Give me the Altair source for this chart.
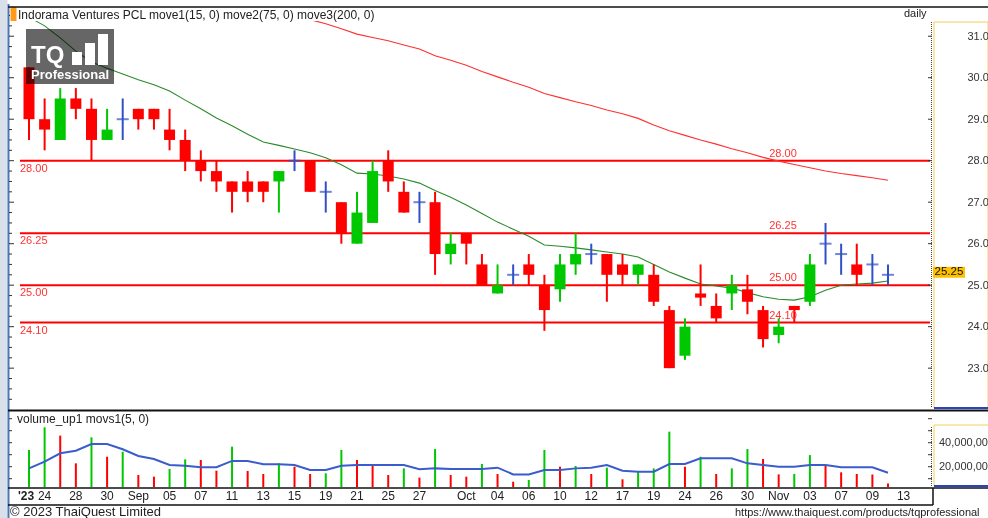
import altair as alt
import pandas as pd

# ---------------- data ----------------
dates = ["2023-08-23","2023-08-24","2023-08-25","2023-08-28","2023-08-29","2023-08-30","2023-08-31",
 "2023-09-01","2023-09-04","2023-09-05","2023-09-06","2023-09-07","2023-09-08","2023-09-11","2023-09-12",
 "2023-09-13","2023-09-14","2023-09-15","2023-09-18","2023-09-19","2023-09-20","2023-09-21","2023-09-22",
 "2023-09-25","2023-09-26","2023-09-27","2023-09-28","2023-09-29","2023-10-02","2023-10-03","2023-10-04",
 "2023-10-05","2023-10-06","2023-10-09","2023-10-10","2023-10-11","2023-10-12","2023-10-16","2023-10-17",
 "2023-10-18","2023-10-19","2023-10-20","2023-10-24","2023-10-25","2023-10-26","2023-10-27","2023-10-30",
 "2023-10-31","2023-11-01","2023-11-02","2023-11-03","2023-11-06","2023-11-07","2023-11-08","2023-11-09",
 "2023-11-10"]

opens = [30.25, 29.0, 28.5, 29.5, 29.25, 28.5, 29.0, 29.25, 29.25, 28.75,
         28.5, 28.0, 27.75, 27.5, 27.5, 27.5, 27.5, 28.0, 28.0, 27.25,
         27.0, 26.0, 26.5, 28.0, 27.25, 27.0, 27.0, 25.75, 26.25, 25.5,
         24.8, 25.25, 25.5, 25.0, 24.9, 25.5, 25.75, 25.75, 25.5, 25.25,
         25.25, 24.4, 23.3, 24.8, 24.5, 24.8, 24.9, 24.4, 23.8, 24.5,
         24.6, 26.0, 25.75, 25.5, 25.5, 25.25]
highs = [30.25, 29.5, 29.75, 29.75, 29.5, 29.25, 29.5, 29.25, 29.25, 29.25,
         28.75, 28.25, 28.0, 27.5, 27.75, 27.5, 27.75, 28.25, 28.0, 27.5,
         27.0, 27.25, 28.0, 28.25, 27.5, 27.25, 27.25, 26.25, 26.25, 25.75,
         25.5, 25.5, 25.75, 25.25, 25.75, 26.25, 26.0, 25.75, 25.75, 25.5,
         25.5, 24.5, 24.2, 25.5, 24.8, 25.25, 25.25, 24.5, 24.2, 24.5,
         25.75, 26.5, 26.0, 26.0, 25.75, 25.5]
lows = [28.5, 28.25, 28.5, 29.0, 28.0, 28.5, 28.5, 28.75, 28.75, 28.25,
        27.75, 27.5, 27.25, 26.75, 27.0, 27.0, 26.75, 27.75, 27.25, 26.75,
        26.0, 26.0, 26.5, 27.25, 26.75, 26.5, 25.25, 25.5, 25.5, 25.0,
        24.8, 25.0, 25.0, 23.9, 24.6, 25.25, 25.5, 24.6, 25.0, 25.0,
        24.5, 23.0, 23.2, 24.5, 24.1, 24.4, 24.3, 23.5, 23.6, 24.1,
        24.5, 25.5, 25.25, 25.0, 25.0, 25.0]
closes = [29.0, 28.75, 29.5, 29.25, 28.5, 28.75, 29.0, 29.0, 29.0, 28.5,
          28.0, 27.75, 27.5, 27.25, 27.25, 27.25, 27.75, 28.0, 27.25, 27.25,
          26.25, 26.75, 27.75, 27.5, 26.75, 27.0, 25.75, 26.0, 26.0, 25.0,
          25.0, 25.25, 25.25, 24.4, 25.5, 25.75, 25.75, 25.25, 25.25, 25.5,
          24.6, 23.0, 24.0, 24.7, 24.2, 25.0, 24.6, 23.7, 24.0, 24.4,
          25.5, 26.0, 25.75, 25.25, 25.5, 25.25]

move1 = [31.46, 31.25, 30.96, 30.64, 30.38, 30.23, 30.09, 29.95, 29.83, 29.68,
         29.46, 29.25, 29.03, 28.84, 28.64, 28.45, 28.37, 28.28, 28.19, 28.07,
         27.90, 27.70, 27.68, 27.63, 27.56, 27.46, 27.28, 27.12, 26.93, 26.73,
         26.52, 26.35, 26.18, 25.97, 25.94, 25.90, 25.85, 25.80, 25.75, 25.68,
         25.50, 25.32, 25.17, 25.03, 24.98, 24.93, 24.82, 24.72, 24.66, 24.64,
         24.72, 24.88, 25.00, 25.03, 25.05, 25.10]
move_long = [None] * 18 + [
         31.40, 31.30, 31.18, 31.05, 30.97, 30.89, 30.79, 30.69, 30.53, 30.42,
         30.30, 30.15, 30.02, 29.89, 29.77, 29.62, 29.52, 29.42, 29.33, 29.22,
         29.13, 29.02, 28.86, 28.72, 28.61, 28.50, 28.40, 28.29, 28.19, 28.08,
         27.99, 27.91, 27.83, 27.75, 27.69, 27.64, 27.59, 27.53]

volume_m = [33.9, 52.8, 45.9, 22.8, 44.5, 28.3, 32.5, 13.1, 11.7, 18.1,
            26.1, 25.6, 16.7, 36.7, 16.4, 13.9, 22.8, 20.0, 13.9, 14.5,
            33.9, 25.6, 21.4, 13.1, 18.6, 10.9, 34.7, 13.1, 11.7, 22.3,
            13.9, 7.5, 8.9, 33.9, 20.0, 20.6, 13.9, 19.2, 9.5, 15.8,
            18.6, 49.2, 20.0, 28.3, 13.9, 18.6, 34.7, 26.4, 13.6, 14.0,
            29.7, 20.8, 15.3, 13.9, 13.5, 6.1]
vol_ma5_m = [18.6, 24.2, 31.2, 33.3, 38.9, 38.9, 34.5, 28.9, 26.4, 21.4,
             20.8, 19.5, 19.5, 24.8, 24.8, 22.0, 22.0, 21.4, 17.2, 17.2,
             20.8, 21.4, 21.4, 21.4, 21.4, 17.8, 18.6, 18.1, 18.1, 18.1,
             19.2, 13.6, 13.6, 17.2, 17.2, 18.6, 19.2, 21.4, 16.7, 15.8,
             15.8, 22.2, 22.2, 27.0, 27.0, 27.0, 22.8, 21.4, 20.0, 20.0,
             21.4, 21.4, 19.5, 19.5, 19.5, 15.0]

levels = [28.00, 26.25, 25.00, 24.10]
date_tick_index = [0, 1, 3, 5, 7, 9, 11, 13, 15, 17, 19, 21, 23, 25, 28, 30, 32, 34,
                   36, 38, 40, 42, 44, 46, 48, 50, 52, 54, 56]
date_tick_label = ["'23", "24", "28", "30", "Sep", "05", "07", "11", "13", "15", "19", "21",
                   "25", "27", "Oct", "04", "06", "10", "12", "17", "19", "24", "26", "30",
                   "Nov", "03", "07", "09", "13"]
price_ticks = [23, 24, 25, 26, 27, 28, 29, 30, 31]
vol_ticks = [20_000_000, 40_000_000]
minor_price_ticks = [22.25 + 0.25 * k for k in range(38)]
minor_vol_ticks = [10_000_000 * k for k in range(1, 7)]

# ---------------- styles ----------------
RED = "#ff0000"
GREEN = "#00c800"
BLUE = "#3150c8"
FONT = "Liberation Sans"
TXT = "#222222"

n = len(dates)
df = pd.DataFrame({"i": list(range(n)), "date": dates, "open": opens, "high": highs,
                   "low": lows, "close": closes, "ma1": move1, "ma3": move_long,
                   "vol": [v * 1e6 for v in volume_m], "vma": [v * 1e6 for v in vol_ma5_m]})
df["color"] = [GREEN if c > o else (RED if c < o else BLUE) for o, c in zip(opens, closes)]
vcol = [GREEN]
for k in range(1, n):
    vcol.append(GREEN if volume_m[k] > volume_m[k - 1] else RED)
df["vcolor"] = vcol

bodies = df[df["open"] != df["close"]]
dojis = df[df["open"] == df["close"]]
ma3_df = df[df["ma3"].notna()]

lev_df = pd.DataFrame({"level": levels, "label": [f"{v:.2f}" for v in levels]})
xt_df = pd.DataFrame({"i": date_tick_index, "lbl": date_tick_label})
xt_bold = xt_df[xt_df["lbl"].str.startswith("'")]
xt_norm = xt_df[~xt_df["lbl"].str.startswith("'")]
pt_df = pd.DataFrame({"t": minor_price_ticks})
pt_minor = pt_df[[abs(t - round(t)) > 1e-9 for t in minor_price_ticks]]
pt_major = pt_df[[abs(t - round(t)) < 1e-9 for t in minor_price_ticks]]
vt_df = pd.DataFrame({"v": minor_vol_ticks})
vl_df = pd.DataFrame({"v": vol_ticks, "txt": [f"{v:,d}" for v in vol_ticks]})
last_df = pd.DataFrame({"close": [closes[-1]], "txt": [f"{closes[-1]:.2f}"]})

# ---------------- scales ----------------
XS = alt.Scale(domain=[0, 55], range=[24, 893], nice=False, zero=False)
PS = alt.Scale(domain=[22.04, 31.68], range=[408, 8], nice=False, zero=False)
VS = alt.Scale(domain=[3.08e6, 65.58e6], range=[487, 412], nice=False, zero=False)
P_AXIS = alt.Axis(orient="right", values=price_ticks, format=".2f", domain=False, ticks=False,
                  grid=False, labelPadding=37, labelFont=FONT, labelFontSize=11,
                  labelColor="#333333", title=None, zindex=1)


def X(field="i:Q"):
    return alt.X(field, scale=XS, axis=None)


def YP(field):
    return alt.Y(field, scale=PS, axis=P_AXIS, title=None)


def YV(field):
    return alt.Y(field, scale=VS, axis=None, title=None)


one = pd.DataFrame({"k": [0]})


def hline(x1, x2, y, color, w=1.0, dash=None):
    kw = {"color": color, "strokeWidth": w}
    if dash:
        kw["strokeDash"] = dash
    return alt.Chart(one).mark_rule(**kw).encode(x=alt.value(x1), x2=alt.value(x2), y=alt.value(y))


def vline(x, y1, y2, color, w=1.0, dash=None):
    kw = {"color": color, "strokeWidth": w}
    if dash:
        kw["strokeDash"] = dash
    return alt.Chart(one).mark_rule(**kw).encode(x=alt.value(x), y=alt.value(y1), y2=alt.value(y2))


def box(x1, x2, y1, y2, fill, **kw):
    return alt.Chart(one).mark_rect(fill=fill, **kw).encode(
        x=alt.value(x1), x2=alt.value(x2), y=alt.value(y1), y2=alt.value(y2))


def label(x, y, s, size=12, color=TXT, weight="normal", align="left"):
    return alt.Chart(one).mark_text(text=s, font=FONT, fontSize=size, color=color, fontWeight=weight,
                                    align=align, baseline="middle").encode(x=alt.value(x), y=alt.value(y))


# ---------------- price panel ----------------
levels_rule = alt.Chart(lev_df).mark_rule(color=RED, strokeWidth=2).encode(
    y=YP("level:Q"), x=alt.value(20), x2=alt.value(930))
lev_lbl_left = alt.Chart(lev_df).mark_text(align="left", baseline="middle", dy=8, font=FONT,
                                           fontSize=11, color="#ff3333").encode(
    x=alt.value(20), y=YP("level:Q"), text="label:N")
lev_lbl_right = alt.Chart(lev_df).mark_text(align="center", baseline="middle", dy=-7, font=FONT,
                                            fontSize=11, color="#ff3333").encode(
    x=alt.value(783), y=YP("level:Q"), text="label:N")
ma1_line = alt.Chart(df).mark_line(color="#2a8a2a", strokeWidth=1.1).encode(x=X(), y=YP("ma1:Q"))
ma3_line = alt.Chart(ma3_df).mark_line(color="#ff3030", strokeWidth=1.1).encode(x=X(), y=YP("ma3:Q"))
wicks = alt.Chart(df).mark_rule(strokeWidth=2).encode(
    x=X(), y=YP("low:Q"), y2="high:Q", color=alt.Color("color:N", scale=None))
body = alt.Chart(bodies).mark_bar(size=11).encode(
    x=X(), y=YP("open:Q"), y2="close:Q", color=alt.Color("color:N", scale=None))
doji = alt.Chart(dojis).mark_tick(orient="horizontal", size=12, thickness=2).encode(
    x=X(), y=YP("close:Q"), color=alt.Color("color:N", scale=None))
left_ticks = alt.Chart(pt_minor).mark_rule(color="#333333", strokeWidth=1).encode(
    y=YP("t:Q"), x=alt.value(9), x2=alt.value(12))
left_ticks_major = alt.Chart(pt_major).mark_rule(color="#333333", strokeWidth=1).encode(
    y=YP("t:Q"), x=alt.value(9), x2=alt.value(14))
right_ticks = alt.Chart(pt_major).mark_rule(color="#333333").encode(
    y=YP("t:Q"), x=alt.value(928), x2=alt.value(932))
last_box = alt.Chart(last_df).mark_point(
    shape="M-1,-0.34L1,-0.34L1,0.34L-1,0.34Z", filled=True, size=1024, color="#ffc000", opacity=1).encode(
    x=alt.value(949), y=YP("close:Q"), yOffset=alt.value(-2.5))
last_txt = alt.Chart(last_df).mark_text(align="left", baseline="middle", font=FONT, fontSize=11.5,
                                        color="#111111").encode(
    x=alt.value(934.5), y=YP("close:Q"), yOffset=alt.value(-2.5), text="txt:N")

price = alt.layer(levels_rule, ma1_line, ma3_line, wicks, body, doji, lev_lbl_left, lev_lbl_right,
                  left_ticks, left_ticks_major, right_ticks, last_box, last_txt)

# ---------------- volume panel ----------------
vbars = alt.Chart(df).mark_rule(strokeWidth=2).encode(
    x=X(), y=YV("vol:Q"), y2=alt.value(487), color=alt.Color("vcolor:N", scale=None))
vma = alt.Chart(df).mark_line(color="#3a5ccc", strokeWidth=2).encode(x=X(), y=YV("vma:Q"))
vlabels = alt.Chart(vl_df).mark_text(align="left", baseline="middle", font=FONT, fontSize=11,
                                     color="#333333").encode(x=alt.value(939), y=YV("v:Q"), text="txt:N")
vticks_l = alt.Chart(vt_df).mark_rule(color="#333333").encode(
    y=YV("v:Q"), x=alt.value(9), x2=alt.value(12))
vticks_r = alt.Chart(vt_df).mark_rule(color="#333333").encode(
    y=YV("v:Q"), x=alt.value(928), x2=alt.value(932))
volume = alt.layer(vbars, vma, vlabels, vticks_l, vticks_r)

# ---------------- date labels ----------------
dlabels = alt.Chart(xt_norm).mark_text(baseline="middle", align="center", font=FONT, fontSize=12,
                                       color=TXT).encode(x=X(), y=alt.value(496), text="lbl:N")
dlabels_b = alt.Chart(xt_bold).mark_text(baseline="middle", align="center", font=FONT, fontSize=12,
                                         fontWeight="bold", color=TXT, dx=-3).encode(
    x=X(), y=alt.value(496), text="lbl:N")

# ---------------- frame / decorations ----------------
back = [
    box(0, 7.5, 0, 518, "#d9e0ea"),
    vline(8.5, 4, 518, "#4a78b4", 2),
    box(934, 988, 22, 408, "#ffffff", fillOpacity=0, stroke="#f2cf5a", strokeWidth=1),
    box(934, 990, 425, 486, "#ffffff", fillOpacity=0, stroke="#f2cf5a", strokeWidth=1),
]
front = [
    box(10, 385, 8, 21, "#ffffff"),
    box(10.5, 16.5, 7, 21, "#ff9a1a"),
    label(18, 14.5, "Indorama Ventures PCL move1(15, 0) move2(75, 0) move3(200, 0)", 12),
    label(904, 14, "daily", 11),
    hline(8, 988, 7, "#111111", 1.5),
    hline(934, 988, 408, "#2a44c0", 2),
    hline(8, 988, 410.5, "#111111", 2),
    vline(931.5, 22, 408, "#444444", 1, [1, 1]),
    vline(931.5, 427, 486, "#444444", 1, [1, 1]),
    hline(934, 988, 486, "#2a44c0", 2),
    label(17, 419, "volume_up1 movs1(5, 0)", 12),
    hline(8, 988, 488, "#111111", 1.5),
    vline(933, 488, 505, "#111111", 1.5),
    hline(8, 933, 505, "#111111", 1.5),
    label(10, 512, "\u00a9 2023  ThaiQuest Limited", 13),
    label(735, 513, "https://www.thaiquest.com/products/tqprofessional", 11),
    # TQ Professional logo
    box(26, 114, 29, 84, "#666666", blend="multiply"),
    label(31, 56, "TQ", 24, "#ffffff", "bold"),
    box(72, 82, 52, 65, "#ffffff"),
    box(85, 95, 43, 65, "#ffffff"),
    box(98, 108, 34, 65, "#ffffff"),
    label(31, 75, "Professional", 13, "#ffffff", "bold"),
]

chart = alt.layer(*back, price, volume, dlabels, dlabels_b, *front).resolve_scale(y="independent").properties(
    width=930, height=518,
    autosize=alt.AutoSizeParams(type="none"),
    padding={"left": 0, "top": 0, "right": 58, "bottom": 0},
    background="#ffffff",
).configure_view(strokeWidth=0)

chart.save("out.html", embed_options={"renderer": "svg", "actions": False})
